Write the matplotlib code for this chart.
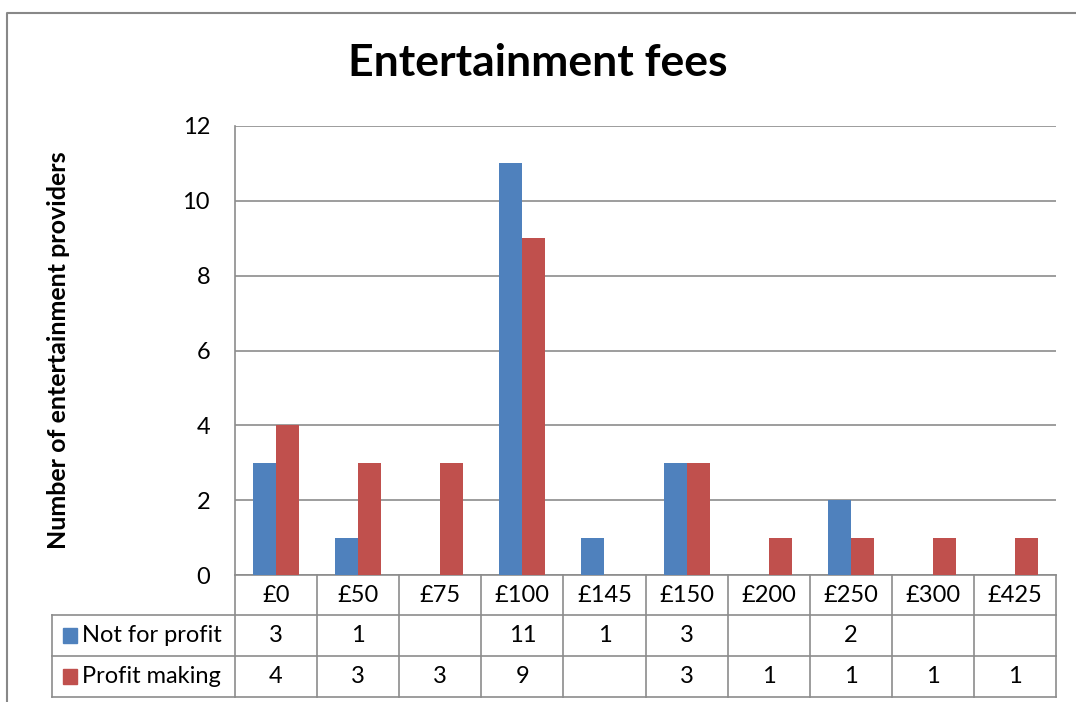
import matplotlib.pyplot as plt
import matplotlib.transforms as mtransforms
from matplotlib.patches import Rectangle
import numpy as np

plt.rcParams['font.family'] = ['Lato', 'DejaVu Sans']

categories = ['£0', '£50', '£75', '£100', '£145', '£150', '£200', '£250', '£300', '£425']
not_for_profit = [3, 1, None, 11, 1, 3, None, 2, None, None]
profit_making = [4, 3, 3, 9, None, 3, 1, 1, 1, 1]
series_names = ['Not for profit', 'Profit making']
colors = ['#4F81BD', '#C0504D']
title = 'Entertainment fees'
ylabel = 'Number of entertainment providers'

W, H = 1076, 702
fig = plt.figure(figsize=(W / 100, H / 100), dpi=100)

# full-figure frame (only left/top edges visible in the original crop)
frame = fig.add_axes([0, 0, 1, 1], zorder=-1)
frame.set_xlim(0, W)
frame.set_ylim(H, 0)
frame.axis('off')
frame.plot([7, 7, W + 5], [H + 5, 13, 13], color='#888888', lw=1.5)

left, right, top, bottom = 235, 1056, 126, 575
ax = fig.add_axes([left / W, 1 - bottom / H, (right - left) / W, (bottom - top) / H])

x = np.arange(len(categories))
bw = 0.28
for k, (vals, col) in enumerate(zip([not_for_profit, profit_making], colors)):
    v = np.array([np.nan if a is None else a for a in vals], dtype=float)
    ax.bar(x + (k - 0.5) * bw, v, width=bw, color=col, zorder=3)

ax.set_xlim(-0.5, len(categories) - 0.5)
ax.set_ylim(0, 12)
ax.set_yticks(range(0, 13, 2))
ax.yaxis.grid(True, color='#8c8c8c', lw=1.2)
ax.set_axisbelow(True)
ax.set_xticks([])
for s in ['top', 'right']:
    ax.spines[s].set_visible(False)
for s in ['left', 'bottom']:
    ax.spines[s].set_color('#8c8c8c')
    ax.spines[s].set_linewidth(1.2)
ax.tick_params(axis='y', length=0, pad=18, labelsize=17)
ax.set_ylabel(ylabel, fontsize=18, fontweight='bold')
ax.yaxis.set_label_coords(-(left - 70) / (right - left), 0.5)
fig.text(0.5, 1 - 63 / H, title, ha='center', va='center', fontsize=32, fontweight='bold')

# data table below the axes
ph = bottom - top
row_edges = [0, -40 / ph, -81 / ph, -122 / ph]
tr = mtransforms.blended_transform_factory(ax.transData, ax.transAxes)
lab_left = -0.5 - (left - 52) / ((right - left) / len(categories))
lc = dict(color='#8c8c8c', lw=1.2, transform=tr, clip_on=False)

# horizontal lines
for r in row_edges[1:]:
    ax.plot([lab_left, len(categories) - 0.5], [r, r], **lc)
# vertical lines
for i in range(len(categories) + 1):
    ax.plot([i - 0.5, i - 0.5], [0, row_edges[-1]], **lc)
ax.plot([lab_left, lab_left], [row_edges[1], row_edges[-1]], **lc)

for i, c in enumerate(categories):
    ax.text(i, (row_edges[0] + row_edges[1]) / 2, c, transform=tr, ha='center',
            va='center', fontsize=17, clip_on=False)
for r, (vals, name, col) in enumerate(zip([not_for_profit, profit_making], series_names, colors)):
    ymid = (row_edges[r + 1] + row_edges[r + 2]) / 2
    for i, v in enumerate(vals):
        if v is not None:
            ax.text(i, ymid, str(v), transform=tr, ha='center', va='center',
                    fontsize=17, clip_on=False)
    ax.add_patch(Rectangle((lab_left + 0.13, ymid - 0.017), 0.18, 0.034,
                           transform=tr, color=col, clip_on=False))
    ax.text(lab_left + 0.37, ymid, name, transform=tr, ha='left', va='center',
            fontsize=17, clip_on=False)

fig.savefig('out.png', dpi=100)
